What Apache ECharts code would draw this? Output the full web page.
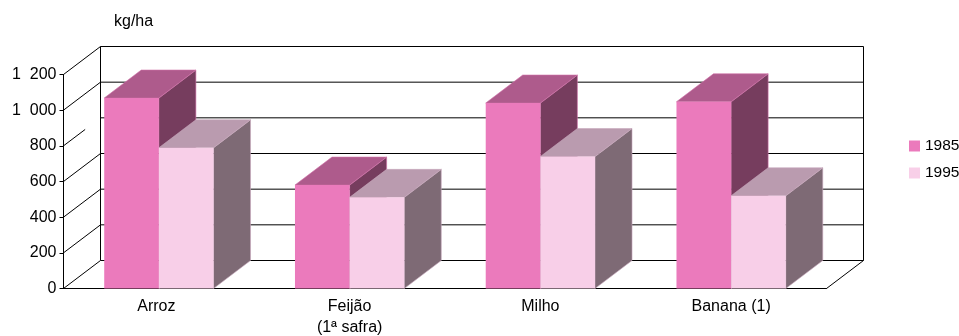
<!DOCTYPE html>
<html><head><meta charset="utf-8">
<style>html,body{margin:0;padding:0;background:#fff}#c{width:959px;height:336px}</style>
<script src="https://cdn.jsdelivr.net/npm/echarts@6/dist/echarts.min.js"></script>
</head><body><div id="c"></div>
<script>
const categories = ['Arroz', 'Feijão\n(1ª safra)', 'Milho', 'Banana (1)'];
const values1985 = [1068, 580, 1040, 1047];
const values1995 = [789, 511, 740, 520];
const yTicks = [0, 200, 400, 600, 800, 1000, 1200];
const yTickLabels = {0:'0',200:'200',400:'400',600:'600',800:'800',1000:'1  000',1200:'1  200'};

const DX = 37, DY = -28;
const FONT = 'Liberation Sans, Arial, sans-serif';
const chart = echarts.init(document.getElementById('c'));

function poly(points, fill, stroke) {
  return { type:'polygon', shape:{points}, style:{fill, stroke:stroke||fill, lineWidth:0.6} };
}
function barRenderer(side, front, top, right, edge) {
  return function (params, api) {
    const base = api.coord([api.value(0), 0]);
    const head = api.coord([api.value(0), api.value(1)]);
    const w = api.size([1, 0])[0] * 0.2865;
    const x0 = side < 0 ? base[0] - w : base[0];
    const x1 = x0 + w, y0 = base[1], y1 = head[1];
    return { type:'group', children:[
      poly([[x1,y0],[x1+DX,y0+DY],[x1+DX,y1+DY],[x1,y1]], right, edge),
      poly([[x0,y1],[x1,y1],[x1+DX,y1+DY],[x0+DX,y1+DY]], top, edge),
      { type:'rect', shape:{x:x0,y:y1,width:w,height:y0-y1}, style:{fill:front} }
    ]};
  };
}
function wallRenderer(params, api) {
  const cs = params.coordSys;
  const v = api.value(0);
  const y = api.coord([0, v])[1];
  const xL = cs.x, xR = cs.x + cs.width;
  const ln = {stroke:'#000', lineWidth:1, fill:null};
  const frac = v === 800 ? 0.585 : 1;
  const kids = [
    {type:'line', shape:{x1:xL,y1:y,x2:xL+DX*frac,y2:y+DY*frac}, style:ln},
    {type:'line', shape:{x1:xL+DX,y1:y+DY,x2:xR+DX,y2:y+DY}, style:ln}
  ];
  if (v === 0) {
    const yTop = api.coord([0, 1200])[1] + DY;
    kids.push({type:'line', shape:{x1:xR,y1:y,x2:xR+DX,y2:y+DY}, style:ln});
    kids.push({type:'line', shape:{x1:xL+DX,y1:y+DY,x2:xL+DX,y2:yTop}, style:ln});
    kids.push({type:'line', shape:{x1:xR+DX,y1:y+DY,x2:xR+DX,y2:yTop}, style:ln});
  }
  return {type:'group', children:kids};
}
chart.setOption({
  animation:false,
  backgroundColor:'#fff',
  title:{text:'kg/ha', left:109, top:9, textStyle:{fontFamily:FONT,fontSize:16,fontWeight:'normal',color:'#000'}},
  legend:{orient:'vertical', left:909, top:138, padding:0, itemWidth:11, itemHeight:11, itemGap:11,
    data:['1985','1995'], selectedMode:false, icon:'rect',
    textStyle:{fontFamily:FONT,fontSize:15.5,lineHeight:16,color:'#000'}},
  grid:{left:63.5, top:74.5, width:763, height:214, outerBoundsMode:'none'},
  xAxis:{type:'category', data:categories,
    axisLine:{lineStyle:{color:'#000'}},
    axisTick:{length:5, lineStyle:{color:'#000'}},
    axisLabel:{color:'#000',fontFamily:FONT,fontSize:16,lineHeight:21,margin:8,interval:0,
      formatter:(v,i)=> i===0 ? '{a|'+v+'}' : v,
      rich:{a:{color:'#000',fontFamily:FONT,fontSize:16,lineHeight:21,padding:[0,5,0,0]}}},
    splitLine:{show:false}},
  yAxis:{type:'value', min:0, max:1200, interval:200,
    axisLine:{show:true,lineStyle:{color:'#000'}},
    axisTick:{show:true,length:4,lineStyle:{color:'#000'}},
    axisLabel:{color:'#000',fontFamily:FONT,fontSize:16,margin:7,formatter:v=>yTickLabels[v]},
    splitLine:{show:false}},
  series:[
    {name:'walls', type:'custom', coordinateSystem:'cartesian2d', renderItem:wallRenderer, silent:true,
     data:yTicks.map(v=>[v]), encode:{x:-1,y:-1}, clip:false, z:1},
    {name:'1985', type:'custom', coordinateSystem:'cartesian2d', clip:false, z:2,
     itemStyle:{color:'#EB7ABC'},
     renderItem:barRenderer(-1,'#EB7ABC','#AE5B8C','#763D5E','#D070A8'),
     encode:{x:0,y:1}, data:values1985.map((v,i)=>[i,v])},
    {name:'1995', type:'custom', coordinateSystem:'cartesian2d', clip:false, z:3,
     itemStyle:{color:'#F8CFE8'},
     renderItem:barRenderer(1,'#F8CFE8','#BA9BAF','#7E6A75','#C8A8BC'),
     encode:{x:0,y:1}, data:values1995.map((v,i)=>[i,v])}
  ]
});
</script></body></html>
